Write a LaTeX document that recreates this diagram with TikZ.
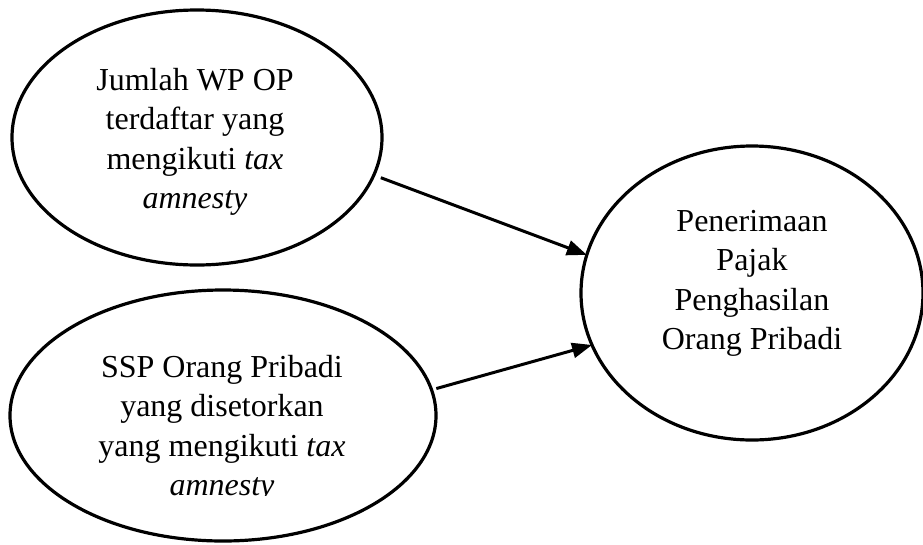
\documentclass[tikz,border=0pt]{standalone}
\usepackage{fontspec}
\setmainfont{Liberation Serif}
\usetikzlibrary{shapes.geometric,arrows.meta}
\begin{document}
\begin{tikzpicture}[x=1pt,y=1pt,
  oval/.style={ellipse, draw=black, line width=3.2pt, inner sep=0pt, outer sep=0pt},
  lbl/.style={align=center, font=\fontsize{32}{39.5}\selectfont, inner sep=0pt},
  arr/.style={line width=3pt, -{Triangle[length=20pt,width=15pt]}}]
\useasboundingbox (0,0) rectangle (923,-544);
\clip (0,0) rectangle (923,-544);
% ovals
\node[oval, minimum width=370pt, minimum height=255pt] (e1) at (197,-137.5) {};
\node[oval, minimum width=426pt, minimum height=251pt] (e2) at (223,-415.5) {};
\node[oval, minimum width=342pt, minimum height=294pt] (e3) at (752,-293) {};
% labels
\node[lbl] (t1) at (195,-142) {Jumlah WP OP\\terdaftar yang\\mengikuti \textit{tax}\\\textit{amnesty}};
\begin{scope}
\clip (0,-300) rectangle (460,-495.5);
\node[lbl] (t2) at (222,-429) {SSP Orang Pribadi\\yang disetorkan\\yang mengikuti \textit{tax}\\\textit{amnesty}};
\end{scope}
\node[lbl] (t3) at (752,-283.5) {Penerimaan\\Pajak\\Penghasilan\\Orang Pribadi};
% connectors
\draw[arr, shorten <=7.5pt] (e1.-12.8) -- (e3.167.8);
\draw[arr, shorten <=5pt] (e2.7.6) -- (e3.-162.7);
\end{tikzpicture}
\end{document}
